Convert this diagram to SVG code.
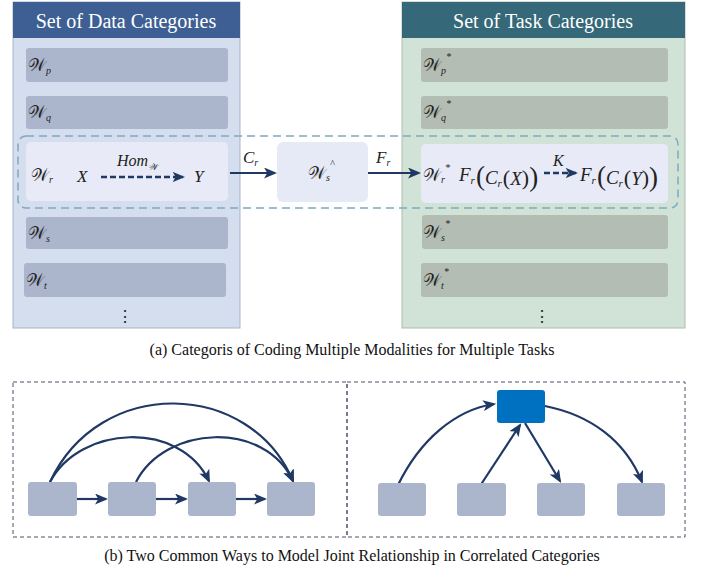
<svg xmlns="http://www.w3.org/2000/svg" width="701" height="571" viewBox="0 0 701 571">
<defs>
<style>
.hd{font-family:"Liberation Serif","Tinos","Times New Roman","DejaVu Serif",serif;font-size:20px;fill:#ffffff;text-anchor:middle;}
.cap{font-family:"Liberation Serif","Tinos","Times New Roman","DejaVu Serif",serif;font-size:16px;fill:#111;text-anchor:middle;}
.dots{font-family:"Liberation Serif","DejaVu Serif",serif;font-size:16px;fill:#222;text-anchor:middle;}
.m{font-family:"Liberation Serif","Tinos","Times New Roman","DejaVu Serif",serif;font-style:italic;fill:#222;}
.w{font-family:"Liberation Serif","DejaVu Serif",serif;fill:#222;font-size:17px;}
.sub{font-family:"Liberation Serif","DejaVu Serif",serif;font-size:10px;font-style:italic;}
.drow{fill:#abb5cc;}
.trow{fill:#b4bdb3;}
.hl{fill:#e8ebf7;}
.conn{fill:none;stroke:#1f3864;stroke-width:2.2;}
.dconn{fill:none;stroke:#1f3864;stroke-width:2.5;stroke-dasharray:6 3;}
.bx{fill:#abb5cc;}
</style>
<marker id="ah" viewBox="0 0 12 10" refX="10" refY="5" markerWidth="6" markerHeight="5" orient="auto" markerUnits="strokeWidth">
<path d="M0,0 L12,5 L0,10 L3,5 z" fill="#1f3864"/>
</marker>
<marker id="ah2" viewBox="0 0 12 10" refX="10" refY="5" markerWidth="5" markerHeight="4.5" orient="auto" markerUnits="strokeWidth">
<path d="M0,0 L12,5 L0,10 L3,5 z" fill="#1f3864"/>
</marker>
</defs>

<g id="data-panel">
<rect x="13" y="2" width="227" height="326" fill="#d4deef" stroke="#a9b4c8" stroke-width="1"/>
<rect x="13" y="2" width="227" height="36" fill="#3e5f94"/>
<text class="hd" x="126" y="28">Set of Data Categories</text>
</g>
<g id="task-panel">
<rect x="402" y="2" width="283" height="326" fill="#d1e2d6" stroke="#aebdb0" stroke-width="1"/>
<rect x="402" y="2" width="283" height="36" fill="#356878"/>
<text class="hd" x="543" y="28">Set of Task Categories</text>
</g>

<g id="row-wp"><rect class="drow" x="26" y="48" width="202" height="34" rx="3"/><text class="w" x="28" y="71">𝒲<tspan class="sub" dy="3">p</tspan></text></g>
<g id="row-wq"><rect class="drow" x="26" y="96" width="202" height="33" rx="3"/><text class="w" x="28" y="118">𝒲<tspan class="sub" dy="3">q</tspan></text></g>
<g id="row-wr"><rect class="hl" x="26" y="142" width="202" height="59" rx="5"/>
<text class="w" x="31" y="181">𝒲<tspan class="sub" dy="2">r</tspan></text>
<text class="m" x="77" y="182" font-size="17">X</text>
<text class="m" x="117" y="166" font-size="16">Hom<tspan font-size="9" dy="4">𝒲</tspan></text>
<text class="m" x="194" y="182" font-size="17">Y</text>
</g>
<g id="row-ws"><rect class="drow" x="26" y="217" width="202" height="32" rx="3"/><text class="w" x="28" y="239">𝒲<tspan class="sub" dy="3">s</tspan></text></g>
<g id="row-wt"><rect class="drow" x="24" y="263" width="202" height="34" rx="3"/><text class="w" x="26" y="286">𝒲<tspan class="sub" dy="3">t</tspan></text></g>
<text class="dots" x="125" y="322">⋮</text>

<g id="row-wp-star"><rect class="trow" x="421" y="48" width="247" height="34" rx="3"/><text class="w" x="423" y="71">𝒲<tspan class="sub" dy="3">p</tspan><tspan class="sub" dy="-14">*</tspan></text></g>
<g id="row-wq-star"><rect class="trow" x="421" y="96" width="247" height="33" rx="3"/><text class="w" x="423" y="118">𝒲<tspan class="sub" dy="3">q</tspan><tspan class="sub" dy="-14">*</tspan></text></g>
<g id="row-wr-star"><rect class="hl" x="421" y="144" width="247" height="59" rx="5"/>
<text class="w" x="423" y="181">𝒲<tspan class="sub" dy="2">r</tspan><tspan class="sub" dy="-12">*</tspan></text>
<text class="m" x="459" y="181" font-size="19">F<tspan font-size="11" dy="3">r</tspan><tspan font-style="normal" font-size="27" dx="1" dy="1">(</tspan><tspan dy="-1">C</tspan><tspan font-size="11" dy="3">r</tspan><tspan font-style="normal" font-size="22" dx="1" dy="-2">(</tspan><tspan>X</tspan><tspan font-style="normal" font-size="22">)</tspan><tspan font-style="normal" font-size="27" dy="1">)</tspan></text>
<text class="m" x="553" y="166" font-size="16">K</text>
<text class="m" x="580" y="181" font-size="19">F<tspan font-size="11" dy="3">r</tspan><tspan font-style="normal" font-size="27" dx="1" dy="1">(</tspan><tspan dy="-1">C</tspan><tspan font-size="11" dy="3">r</tspan><tspan font-style="normal" font-size="22" dx="1" dy="-2">(</tspan><tspan>Y</tspan><tspan font-style="normal" font-size="22">)</tspan><tspan font-style="normal" font-size="27" dy="1">)</tspan></text>
</g>
<g id="row-ws-star"><rect class="trow" x="422" y="215" width="246" height="34" rx="3"/><text class="w" x="423" y="238">𝒲<tspan class="sub" dy="3">s</tspan><tspan class="sub" dy="-14">*</tspan></text></g>
<g id="row-wt-star"><rect class="trow" x="421" y="263" width="247" height="34" rx="3"/><text class="w" x="423" y="286">𝒲<tspan class="sub" dy="3">t</tspan><tspan class="sub" dy="-14">*</tspan></text></g>
<text class="dots" x="542" y="322">⋮</text>

<g id="node-ws-hat"><rect x="277" y="142" width="91" height="60" rx="6" fill="#e6e9f6"/>
<text class="w" x="308" y="179">𝒲<tspan class="sub" dy="2">s</tspan><tspan class="sub" font-style="normal" dy="-14">^</tspan></text></g>

<rect id="highlight" x="18" y="136" width="660" height="72" rx="8" fill="none" stroke="#7eabbd" stroke-width="1.5" stroke-dasharray="8 5"/>

<g id="connectors">
<path class="conn" d="M230,173 L275,173" marker-end="url(#ah)"/>
<text class="m" x="243" y="163" font-size="17">C<tspan font-size="10" dy="3">r</tspan></text>
<path class="conn" d="M368,173 L419,173" marker-end="url(#ah)"/>
<text class="m" x="376" y="163" font-size="17">F<tspan font-size="10" dy="3">r</tspan></text>
<path class="dconn" d="M101,177 L183,177" marker-end="url(#ah2)"/>
<path class="dconn" d="M544,173 L576,173" marker-end="url(#ah2)"/>
<path class="conn" d="M77,499 L106,499" marker-end="url(#ah)"/>
<path class="conn" d="M156,499 L186,499" marker-end="url(#ah)"/>
<path class="conn" d="M236,499 L265,499" marker-end="url(#ah)"/>
<path class="conn" d="M50,482 C80,425 180,420 209,481" marker-end="url(#ah)"/>
<path class="conn" d="M50,482 C100,375 250,380 293,481" marker-end="url(#ah)"/>
<path class="conn" d="M136,482 C165,425 265,420 293,481" marker-end="url(#ah)"/>
<path class="conn" d="M398,485 C420,440 455,410 494,404" marker-end="url(#ah)"/>
<path class="conn" d="M480,486 L520,425" marker-end="url(#ah)"/>
<path class="conn" d="M525,423 L560,481" marker-end="url(#ah)"/>
<path class="conn" d="M545,406 C590,415 625,440 642,482" marker-end="url(#ah)"/>
</g>

<text class="cap" x="352" y="355">(a) Categoris of Coding Multiple Modalities for Multiple Tasks</text>

<g id="frame-left"><rect x="13" y="382" width="334" height="155" fill="none" stroke="#4a5266" stroke-width="1" stroke-dasharray="4 3"/></g>
<g id="frame-right"><rect x="347" y="382" width="338" height="155" fill="none" stroke="#4a5266" stroke-width="1" stroke-dasharray="4 3"/></g>

<g id="seq-1"><rect class="bx" x="28" y="482" width="49" height="34" rx="3"/></g>
<g id="seq-2"><rect class="bx" x="108" y="482" width="48" height="34" rx="3"/></g>
<g id="seq-3"><rect class="bx" x="188" y="482" width="48" height="34" rx="3"/></g>
<g id="seq-4"><rect class="bx" x="267" y="482" width="48" height="34" rx="3"/></g>

<g id="hub"><rect x="497" y="390" width="48" height="33" rx="3" fill="#0070c0"/></g>
<g id="star-1"><rect class="bx" x="378" y="483" width="48" height="33" rx="3"/></g>
<g id="star-2"><rect class="bx" x="457" y="483" width="49" height="33" rx="3"/></g>
<g id="star-3"><rect class="bx" x="537" y="483" width="48" height="33" rx="3"/></g>
<g id="star-4"><rect class="bx" x="617" y="483" width="48" height="33" rx="3"/></g>

<text class="cap" x="352" y="561">(b) Two Common Ways to Model Joint Relationship in Correlated Categories</text>
</svg>
